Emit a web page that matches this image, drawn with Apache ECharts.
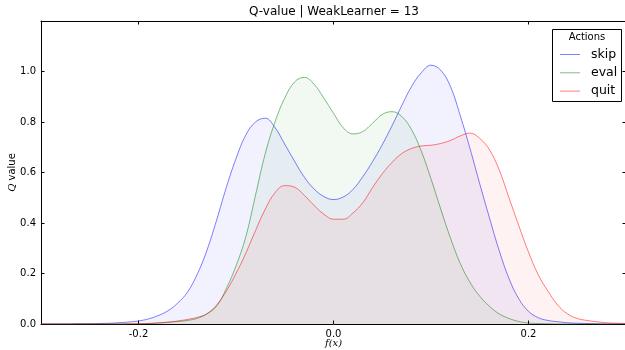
<!DOCTYPE html>
<html>
<head>
<meta charset="utf-8">
<script src="https://cdn.jsdelivr.net/npm/echarts@6/dist/echarts.min.js"></script>
<style>
  html, body { margin: 0; padding: 0; background: #fff; }
  #chart { width: 625px; height: 350px; }
</style>
</head>
<body>
<div id="chart"></div>
<script>
// Sample positions along f(x)
const fx = [
  -0.30, -0.29, -0.28, -0.27, -0.26, -0.25, -0.24, -0.23, -0.22, -0.21,
  -0.20, -0.19, -0.18, -0.17, -0.16, -0.15, -0.14, -0.13, -0.12, -0.11,
  -0.10, -0.09, -0.08, -0.07, -0.06, -0.05, -0.04, -0.03, -0.02, -0.01,
   0.00,
   0.01,  0.02,  0.03,  0.04,  0.05,  0.06,  0.07,  0.08,  0.09,  0.10,
   0.11,  0.12,  0.13,  0.14,  0.15,  0.16,  0.17,  0.18,  0.19,  0.20,
   0.21,  0.22,  0.23,  0.24,  0.25,  0.26,  0.27,  0.28,  0.29,  0.30
];

// Q value of each action at the positions above
const skipQ = [
  0, 0, 0, 0, 0.001, 0.001, 0.002, 0.003, 0.005, 0.008,
  0.012, 0.02, 0.033, 0.052, 0.082, 0.125, 0.195, 0.29, 0.41, 0.54,
  0.655, 0.748, 0.80, 0.815, 0.778, 0.712, 0.645, 0.582, 0.535, 0.505,
  0.493,
  0.503, 0.533, 0.583, 0.643, 0.71, 0.785, 0.865, 0.94, 0.995, 1.025,
  1.005, 0.94, 0.825, 0.695, 0.555, 0.42, 0.29, 0.18, 0.10, 0.05,
  0.025, 0.014, 0.009, 0.005, 0.003, 0.002, 0.001, 0, 0, 0
];
const evalQ = [
  0, 0, 0, 0, 0, 0, 0, 0, 0, 0,
  0.001, 0.002, 0.004, 0.007, 0.01, 0.014, 0.022, 0.04, 0.07, 0.14,
  0.23, 0.345, 0.51, 0.675, 0.80, 0.895, 0.958, 0.977, 0.95, 0.895,
  0.835,
  0.777, 0.753, 0.762, 0.795, 0.83, 0.841, 0.822, 0.77, 0.685, 0.575,
  0.455, 0.34, 0.24, 0.165, 0.11, 0.07, 0.04, 0.022, 0.01, 0.004,
  0.002, 0.001, 0, 0, 0, 0, 0, 0, 0, 0
];
const quitQ = [
  0, 0, 0, 0, 0, 0, 0, 0, 0, 0.001,
  0.001, 0.002, 0.004, 0.007, 0.012, 0.018, 0.026, 0.04, 0.075, 0.13,
  0.20, 0.28, 0.37, 0.455, 0.52, 0.548, 0.542, 0.51, 0.47, 0.435,
  0.415,
  0.415, 0.44, 0.48, 0.54, 0.595, 0.64, 0.675, 0.695, 0.705, 0.708,
  0.715, 0.727, 0.745, 0.756, 0.735, 0.69, 0.61, 0.50, 0.39, 0.285,
  0.195, 0.13, 0.075, 0.04, 0.022, 0.014, 0.009, 0.005, 0.003, 0.002
];

const actionNames = ['skip', 'eval', 'quit'];
const xTicks = [-0.2, 0.0, 0.2];
const yTicks = [0.0, 0.2, 0.4, 0.6, 0.8, 1.0];

const lineColors = ['rgba(0,0,255,0.5)', 'rgba(0,128,0,0.5)', 'rgba(255,0,0,0.5)'];
const fillColors = ['rgba(0,0,255,0.075)', 'rgba(0,128,0,0.075)', 'rgba(255,0,0,0.075)'];
const FONT = 'DejaVu Sans';

const values = [skipQ, evalQ, quitQ];
const series = actionNames.map((name, k) => ({
  name: name,
  type: 'line',
  data: fx.map((x, i) => [x, values[k][i]]),
  smooth: 0.4,
  symbol: 'none',
  lineStyle: { color: lineColors[k], width: 1 },
  itemStyle: { color: lineColors[k] },
  areaStyle: { color: fillColors[k], origin: 'start' },
  z: 2 + k
}));

const tickCommon = { show: true, inside: true, length: 3.5, lineStyle: { color: '#000', width: 1 } };
const lineCommon = { show: true, onZero: false, lineStyle: { color: '#000', width: 1 } };
const fmt1 = v => v.toFixed(1);

// Legend box: title plus one line sample and label per action
const legendBox = { x: 552.5, y: 29.5, w: 69, h: 72 };
const legendGraphics = [
  {
    type: 'rect', z: 15,
    shape: { x: legendBox.x, y: legendBox.y, width: legendBox.w, height: legendBox.h },
    style: { fill: '#fff', stroke: '#000', lineWidth: 1 }
  },
  {
    type: 'text', x: 587, y: 37, z: 20,
    style: { text: 'Actions', fill: '#000', font: '10px "DejaVu Sans"', textAlign: 'center', textVerticalAlign: 'middle' }
  }
];
actionNames.forEach((n, k) => {
  const cy = 54.5 + k * 18.3;
  legendGraphics.push({
    type: 'line', z: 20,
    shape: { x1: 560, y1: cy, x2: 580, y2: cy },
    style: { stroke: lineColors[k], lineWidth: 1 }
  });
  legendGraphics.push({
    type: 'text', x: 591, y: cy, z: 20,
    style: { text: n, fill: '#000', font: '12.5px "DejaVu Sans"', textAlign: 'left', textVerticalAlign: 'middle' }
  });
});

const chart = echarts.init(document.getElementById('chart'), null, { renderer: 'canvas' });
chart.setOption({
  animation: false,
  backgroundColor: '#fff',
  grid: { left: 41, top: 21, width: 585, height: 303, containLabel: false, outerBoundsMode: 'none' },
  xAxis: [
    {
      type: 'value', position: 'bottom', min: -0.3, max: 0.3,
      axisLine: lineCommon,
      axisTick: Object.assign({ customValues: xTicks }, tickCommon),
      axisLabel: { customValues: xTicks, formatter: fmt1, color: '#000', fontFamily: FONT, fontSize: 10, margin: 5 },
      splitLine: { show: false },
      name: 'f(x)', nameLocation: 'middle', nameGap: 14, nameMoveOverlap: false,
      nameTextStyle: { fontFamily: 'DejaVu Serif', fontStyle: 'italic', fontSize: 10, color: '#000' }
    },
    {
      type: 'value', position: 'top', min: -0.3, max: 0.3,
      axisLine: lineCommon,
      axisTick: Object.assign({ customValues: xTicks }, tickCommon),
      axisLabel: { show: false },
      splitLine: { show: false }
    }
  ],
  yAxis: [
    {
      type: 'value', position: 'left', min: 0, max: 1.2,
      axisLine: lineCommon,
      axisTick: Object.assign({ customValues: yTicks }, tickCommon),
      axisLabel: { customValues: yTicks, formatter: fmt1, color: '#000', fontFamily: FONT, fontSize: 10, margin: 5 },
      splitLine: { show: false },
      name: '{q|Q} value', nameLocation: 'middle', nameGap: 24, nameRotate: 90, nameMoveOverlap: false,
      nameTextStyle: {
        fontFamily: FONT, fontSize: 10, color: '#000',
        rich: { q: { fontFamily: 'DejaVu Serif', fontStyle: 'italic', fontSize: 10, color: '#000' } }
      }
    },
    {
      type: 'value', position: 'right', min: 0, max: 1.2,
      axisLine: lineCommon,
      axisTick: Object.assign({ customValues: yTicks }, tickCommon),
      axisLabel: { show: false },
      splitLine: { show: false }
    }
  ],
  graphic: [
    {
      type: 'text', x: 334, y: 12, z: 20,
      style: { text: 'Q-value | WeakLearner = 13', fill: '#000', font: '12px "DejaVu Sans"', textAlign: 'center', textVerticalAlign: 'middle' }
    }
  ].concat(legendGraphics),
  series: series
});
</script>
</body>
</html>
